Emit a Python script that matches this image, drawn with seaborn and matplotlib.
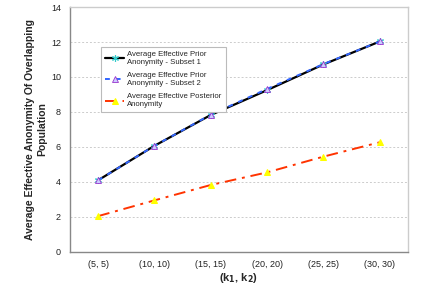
import matplotlib
matplotlib.use("Agg")
import matplotlib.pyplot as plt
import seaborn as sns
import numpy as np
import pandas as pd

categories = ["(5, 5)", "(10, 10)", "(15, 15)", "(20, 20)", "(25, 25)", "(30, 30)"]
prior_subset1 = [4.1, 6.07, 7.83, 9.25, 10.72, 12.03]
prior_subset2 = [4.1, 6.07, 7.85, 9.32, 10.74, 12.03]
posterior = [2.05, 2.95, 3.83, 4.55, 5.45, 6.27]

sns.set_style("white")
plt.rcParams['font.family'] = ['Liberation Sans', 'DejaVu Sans']

fig = plt.figure(figsize=(4.31, 2.87), dpi=100)
ax = fig.add_axes([0.1624, 0.122, 0.7842, 0.8536])

xs = np.arange(len(categories))
df = pd.DataFrame({'x': xs, 's1': prior_subset1, 's2': prior_subset2, 'post': posterior})

sns.lineplot(data=df, x='x', y='s1', ax=ax, color='black', lw=1.6,
             marker=(6, 2, 0), markersize=5, markeredgecolor='#33CCCC',
             markeredgewidth=0.8, label='Average Effective Prior\nAnonymity - Subset 1')
sns.lineplot(data=df, x='x', y='s2', ax=ax, color='#3366FF', lw=1.4,
             marker='^', markersize=5, markerfacecolor='#CCCCFF',
             markeredgecolor='#9933CC', markeredgewidth=0.6,
             label='Average Effective Prior\nAnonymity - Subset 2')
sns.lineplot(data=df, x='x', y='post', ax=ax, color='#FF3300', lw=1.4,
             marker='^', markersize=5, markerfacecolor='#FFFF00',
             markeredgecolor='#FFFF00', label='Average Effective Posterior\nAnonymity')
ax.lines[1].set_dashes([2.5, 3])
ax.lines[2].set_dashes([6, 3, 1.5, 3])

ax.set_xlim(-0.5, len(categories) - 0.5)
ax.set_ylim(0, 14)
ax.set_yticks(range(0, 15, 2))
ax.set_xticks(xs)
ax.set_xticklabels(categories, fontsize=6.5, color='#222222')
ax.set_xticks(np.arange(-0.5, len(categories)), minor=True)
ax.tick_params(axis='x', which='major', length=0, pad=6)
ax.tick_params(axis='x', which='minor', length=3, color='#999999')
ax.tick_params(axis='y', length=3, color='#888888', labelsize=6.5, labelcolor='#222222')

ax.yaxis.grid(True, linestyle=(0, (2, 2)), color='#CCCCCC', lw=0.7)
for side in ['top', 'right']:
    ax.spines[side].set_color('#CCCCCC')
    ax.spines[side].set_linewidth(1.0)
for side in ['left', 'bottom']:
    ax.spines[side].set_color('#888888')
    ax.spines[side].set_linewidth(1.0)

ax.set_xlabel('(k$_\\mathbf{1}$, k$_\\mathbf{2}$)', fontsize=8, fontweight='bold', labelpad=1)
ax.set_ylabel('Average Effective Anonymity Of Overlapping\nPopulation', fontsize=7.5,
              fontweight='bold', labelpad=3)

leg = ax.legend(loc='upper left', bbox_to_anchor=(0.08, 0.853), fontsize=5.6,
                frameon=True, fancybox=False, edgecolor='#BBBBBB', framealpha=1,
                handlelength=2.5, labelspacing=0.8, borderpad=0.5, handletextpad=0.4)
leg.get_frame().set_linewidth(0.8)

fig.savefig('out.png', dpi=100)
